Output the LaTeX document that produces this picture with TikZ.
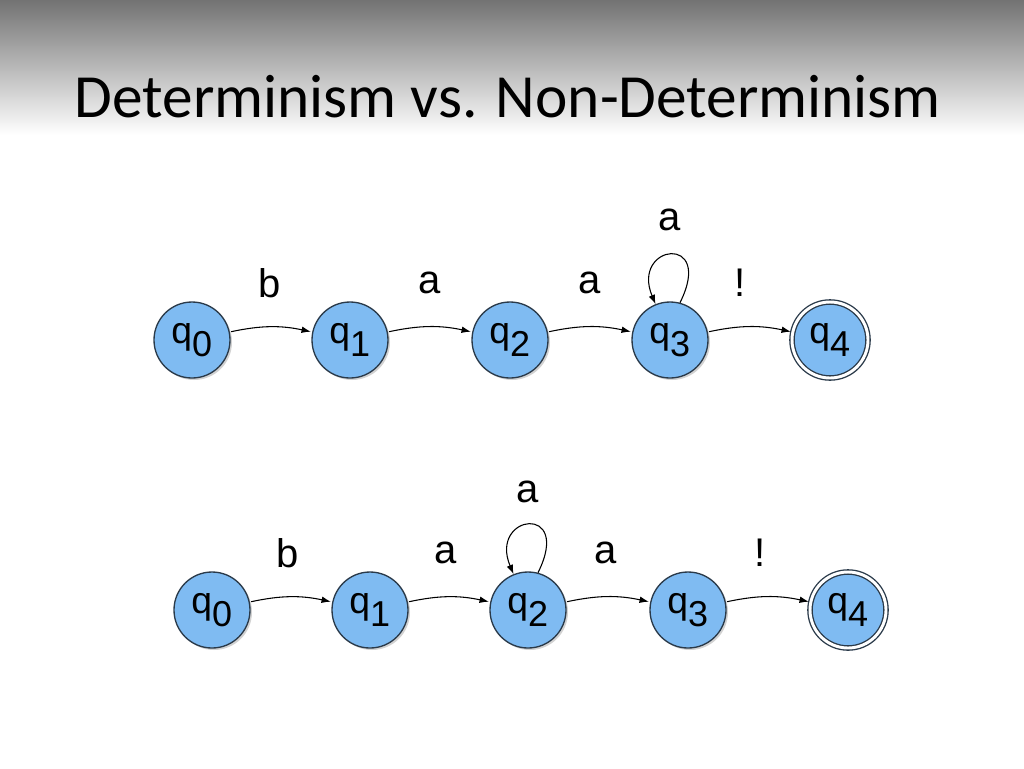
\documentclass[tikz,border=0pt]{standalone}
\usepackage{fontspec}
\setmainfont{Liberation Sans}
\newfontfamily\titlefont{Carlito}
\usetikzlibrary{arrows.meta,shadows}
\definecolor{nodeblue}{HTML}{7FBBF2}
\definecolor{nodeedge}{HTML}{2A3A4A}
\newcommand{\qs}[1]{q\textsubscript{\fontsize{27}{30}\selectfont #1}}
\tikzset{
  st/.style={circle,minimum size=57pt,inner sep=0pt,fill=nodeblue,draw=nodeedge,line width=1pt,
    drop shadow={shadow xshift=1.5pt,shadow yshift=-1.5pt,opacity=0.35},font=\fontsize{28}{30}\selectfont},
  acc/.style={st,double=white,double distance=2.2pt},
  tr/.style={-{Latex[length=7pt,width=5pt]},line width=0.8pt,bend left=12,shorten >=1pt,shorten <=1pt},
  lp/.style={-{Latex[length=7pt,width=5pt]},line width=0.8pt},
  lab/.style={font=\fontsize{30}{32}\selectfont}
}
\begin{document}
\begin{tikzpicture}[x=0.75pt,y=-0.75pt]
\useasboundingbox (0,0) rectangle (1024,768);
\fill[white] (0,0) rectangle (1024,768);
\shade[top color=black!55,bottom color=white] (0,0) rectangle (1024,135);
\node[anchor=west,font=\titlefont\fontsize{46}{50}\selectfont] (title) at (70,97) {Determinism vs. Non-Determinism};
% top row
\node[st] (a0) at (192,340) {\qs{0}};
\node[st] (a1) at (350,340) {\qs{1}};
\node[st] (a2) at (510,340) {\qs{2}};
\node[st] (a3) at (670,340) {\qs{3}};
\node[acc] (a4) at (830,340) {\qs{4}};
\draw[tr] (a0) to (a1); \draw[tr] (a1) to (a2); \draw[tr] (a2) to (a3); \draw[tr] (a3) to (a4);
\draw[lp] (a3.75) .. controls +(35,-70) and +(-25,-60) .. (a3.112);
\node[lab] (la0) at (270,283) {b};
\node[lab] (la1) at (430,283) {a};
\node[lab] (la2) at (590,283) {a};
\node[lab] (la3) at (740,283) {!};
\node[lab] (la4) at (670,220) {a};
% bottom row
\node[st] (b0) at (212,610) {\qs{0}};
\node[st] (b1) at (370,610) {\qs{1}};
\node[st] (b2) at (528,610) {\qs{2}};
\node[st] (b3) at (688,610) {\qs{3}};
\node[acc] (b4) at (848,610) {\qs{4}};
\draw[tr] (b0) to (b1); \draw[tr] (b1) to (b2); \draw[tr] (b2) to (b3); \draw[tr] (b3) to (b4);
\draw[lp] (b2.75) .. controls +(35,-70) and +(-25,-60) .. (b2.112);
\node[lab] (lb0) at (288,553) {b};
\node[lab] (lb1) at (446,553) {a};
\node[lab] (lb2) at (606,553) {a};
\node[lab] (lb3) at (760,553) {!};
\node[lab] (lb4) at (528,492) {a};
\end{tikzpicture}
\end{document}
